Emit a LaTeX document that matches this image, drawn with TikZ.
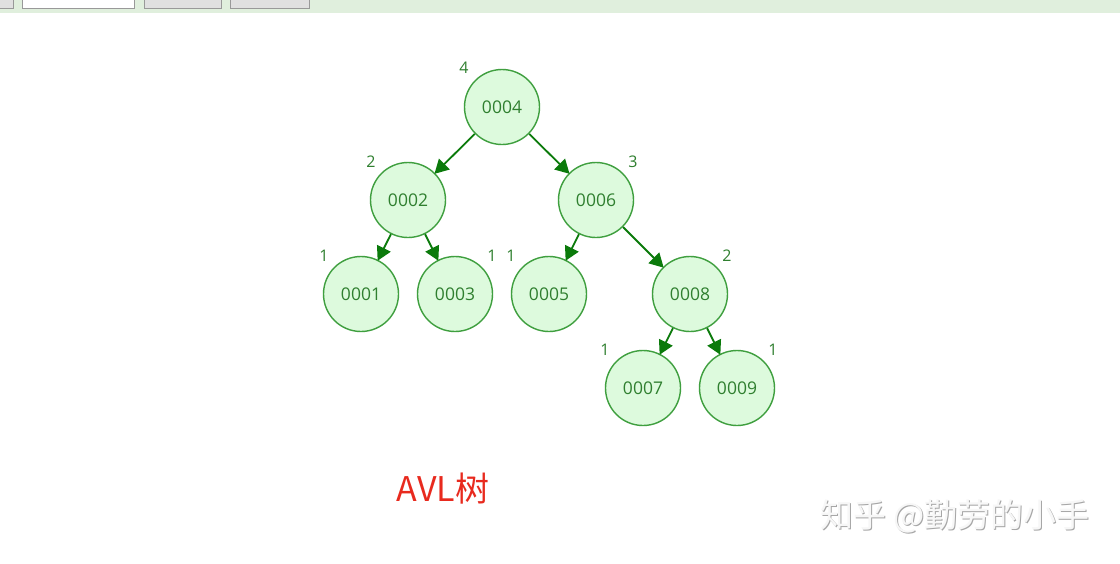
\documentclass[tikz,border=0pt]{standalone}
\usepackage{fontspec}
\setmainfont{Open Sans}
\newfontfamily\cjk{Noto Sans CJK SC}
\usetikzlibrary{arrows.meta}
\definecolor{nodefill}{HTML}{DDFADD}
\definecolor{nodedraw}{HTML}{3F9F3F}
\definecolor{nodetext}{HTML}{2F7F2F}
\definecolor{edgecol}{HTML}{0B7A0B}
\definecolor{barcol}{HTML}{E0EFDD}
\definecolor{avlred}{HTML}{E82A1E}
\tikzset{
  x=1pt, y=-1pt,
  tnode/.style={circle, draw=nodedraw, fill=nodefill, line width=1.4pt, minimum size=75pt, inner sep=0pt, text=nodetext, font=\fontsize{17.5}{20}\selectfont},
  hlabel/.style={text=nodetext, font=\fontsize{16}{19}\selectfont, inner sep=0pt},
  edge/.style={draw=edgecol, line width=1.8pt, -{Triangle[length=14pt, width=15pt]}, shorten >=-1pt},
  tab/.style={draw=gray!80, fill=black!12, line width=0.8pt},
}
\begin{document}
\begin{tikzpicture}
\useasboundingbox (0,0) rectangle (1120,563);
\fill[white] (0,0) rectangle (1120,563);
% top bar
\fill[barcol] (0,0) rectangle (1120,13);
\filldraw[tab] (-2,-2) rectangle (13,8);
\filldraw[draw=gray!80, fill=white, line width=0.8pt] (22,-2) rectangle (134,8);
\filldraw[tab] (144,-2) rectangle (221,8);
\filldraw[tab] (230,-2) rectangle (309,8);

% nodes
\node[tnode] (n4) at (502,107) {0004};
\node[tnode] (n2) at (408,200) {0002};
\node[tnode] (n6) at (596,200) {0006};
\node[tnode] (n1) at (361,294) {0001};
\node[tnode] (n3) at (455,294) {0003};
\node[tnode] (n5) at (549,294) {0005};
\node[tnode] (n8) at (690,294) {0008};
\node[tnode] (n7) at (643,388) {0007};
\node[tnode] (n9) at (737,388) {0009};

% edges
\draw[edge] (n4) -- (n2);
\draw[edge] (n4) -- (n6);
\draw[edge] (n2) -- (n1);
\draw[edge] (n2) -- (n3);
\draw[edge] (n6) -- (n5);
\draw[edge] (n6) -- (n8);
\draw[edge] (n8) -- (n7);
\draw[edge] (n8) -- (n9);

% height labels
\node[hlabel] (h4) at (464,68) {4};
\node[hlabel] (h2) at (371,162) {2};
\node[hlabel] (h6) at (633,162) {3};
\node[hlabel] (h1) at (324,256) {1};
\node[hlabel] (h3) at (492,256) {1};
\node[hlabel] (h5) at (511,256) {1};
\node[hlabel] (h8) at (727,256) {2};
\node[hlabel] (h7) at (605,350) {1};
\node[hlabel] (h9) at (773,350) {1};

% caption
\node[text=avlred, font=\cjk\fontsize{34}{40}\selectfont, inner sep=0pt] (cap) at (443,489) {AVL树};

% watermark
\node[text=black!35, font=\cjk\fontsize{33}{40}\selectfont, inner sep=0pt] (wm0) at (956,517) {知乎 @勤劳的小手};
\node[text=white!97!black, font=\cjk\fontsize{33}{40}\selectfont, inner sep=0pt] (wm) at (955,516) {知乎 @勤劳的小手};
\end{tikzpicture}
\end{document}
